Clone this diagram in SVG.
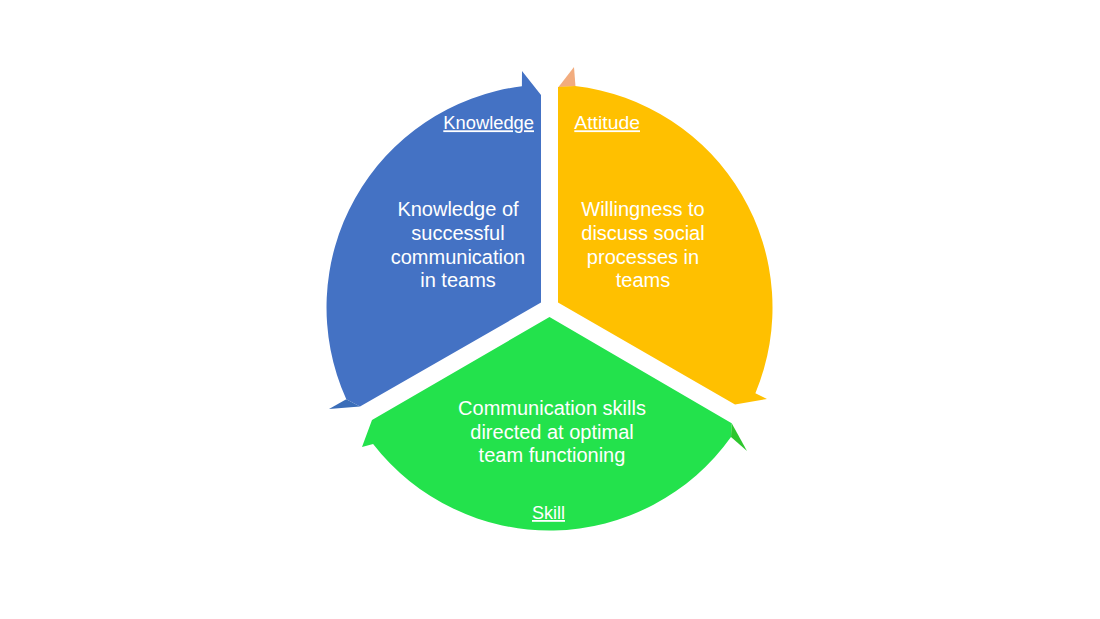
<svg xmlns="http://www.w3.org/2000/svg" width="1100" height="619" viewBox="0 0 1100 619">
<style>
.t{font-family:"Liberation Sans",Arial,sans-serif;font-size:20px;fill:#ffffff;text-anchor:middle}
.h{font-family:"Liberation Sans",Arial,sans-serif;font-size:18px;fill:#ffffff;text-decoration:underline}
</style>
<rect width="1100" height="619" fill="#ffffff"/>
<g id="knowledge">
<path d="M541,302.6 L541,95 L522,71 L521.9,86.2 A223,223 0 0,0 346.3,399.3 L360,406.5 Z" fill="#4472C4"/>
<path d="M346.3,399.3 L329,409 L360,406.5 Z" fill="#3A6DB8"/>
<text class="h" x="443.3" y="129.3" textLength="90.7" lengthAdjust="spacingAndGlyphs">Knowledge</text>
<text class="t" x="458" y="216">Knowledge of</text>
<text class="t" x="458" y="240">successful</text>
<text class="t" x="458" y="263.5">communication</text>
<text class="t" x="458" y="287">in teams</text>
</g>
<g id="attitude">
<path d="M558.5,87 L574,67 L575.5,86.5 Z" fill="#F2AC7E"/>
<path d="M558,302.6 L558,87 L575.1,86 A223,223 0 0,1 755.4,393.2 L767,399 L735,404.5 Z" fill="#FFC000"/>
<text class="h" x="574.3" y="129.3" textLength="65.7" lengthAdjust="spacingAndGlyphs">Attitude</text>
<text class="t" x="643" y="216">Willingness to</text>
<text class="t" x="643" y="240">discuss social</text>
<text class="t" x="643" y="263.5">processes in</text>
<text class="t" x="643" y="287">teams</text>
</g>
<g id="skill">
<path d="M549.5,317 L731.7,423.3 L731,437 A223,223 0 0,1 373.1,443.9 L362,447 L372,420 Z" fill="#23E24C"/>
<path d="M731.7,423.3 L747,451 L731,437 Z" fill="#2EC62E"/>
<text class="t" x="552" y="415">Communication skills</text>
<text class="t" x="552" y="438.5">directed at optimal</text>
<text class="t" x="552" y="462">team functioning</text>
<text class="h" x="532" y="519" textLength="33" lengthAdjust="spacingAndGlyphs">Skill</text>
</g>
<g id="connectors"/>
</svg>
